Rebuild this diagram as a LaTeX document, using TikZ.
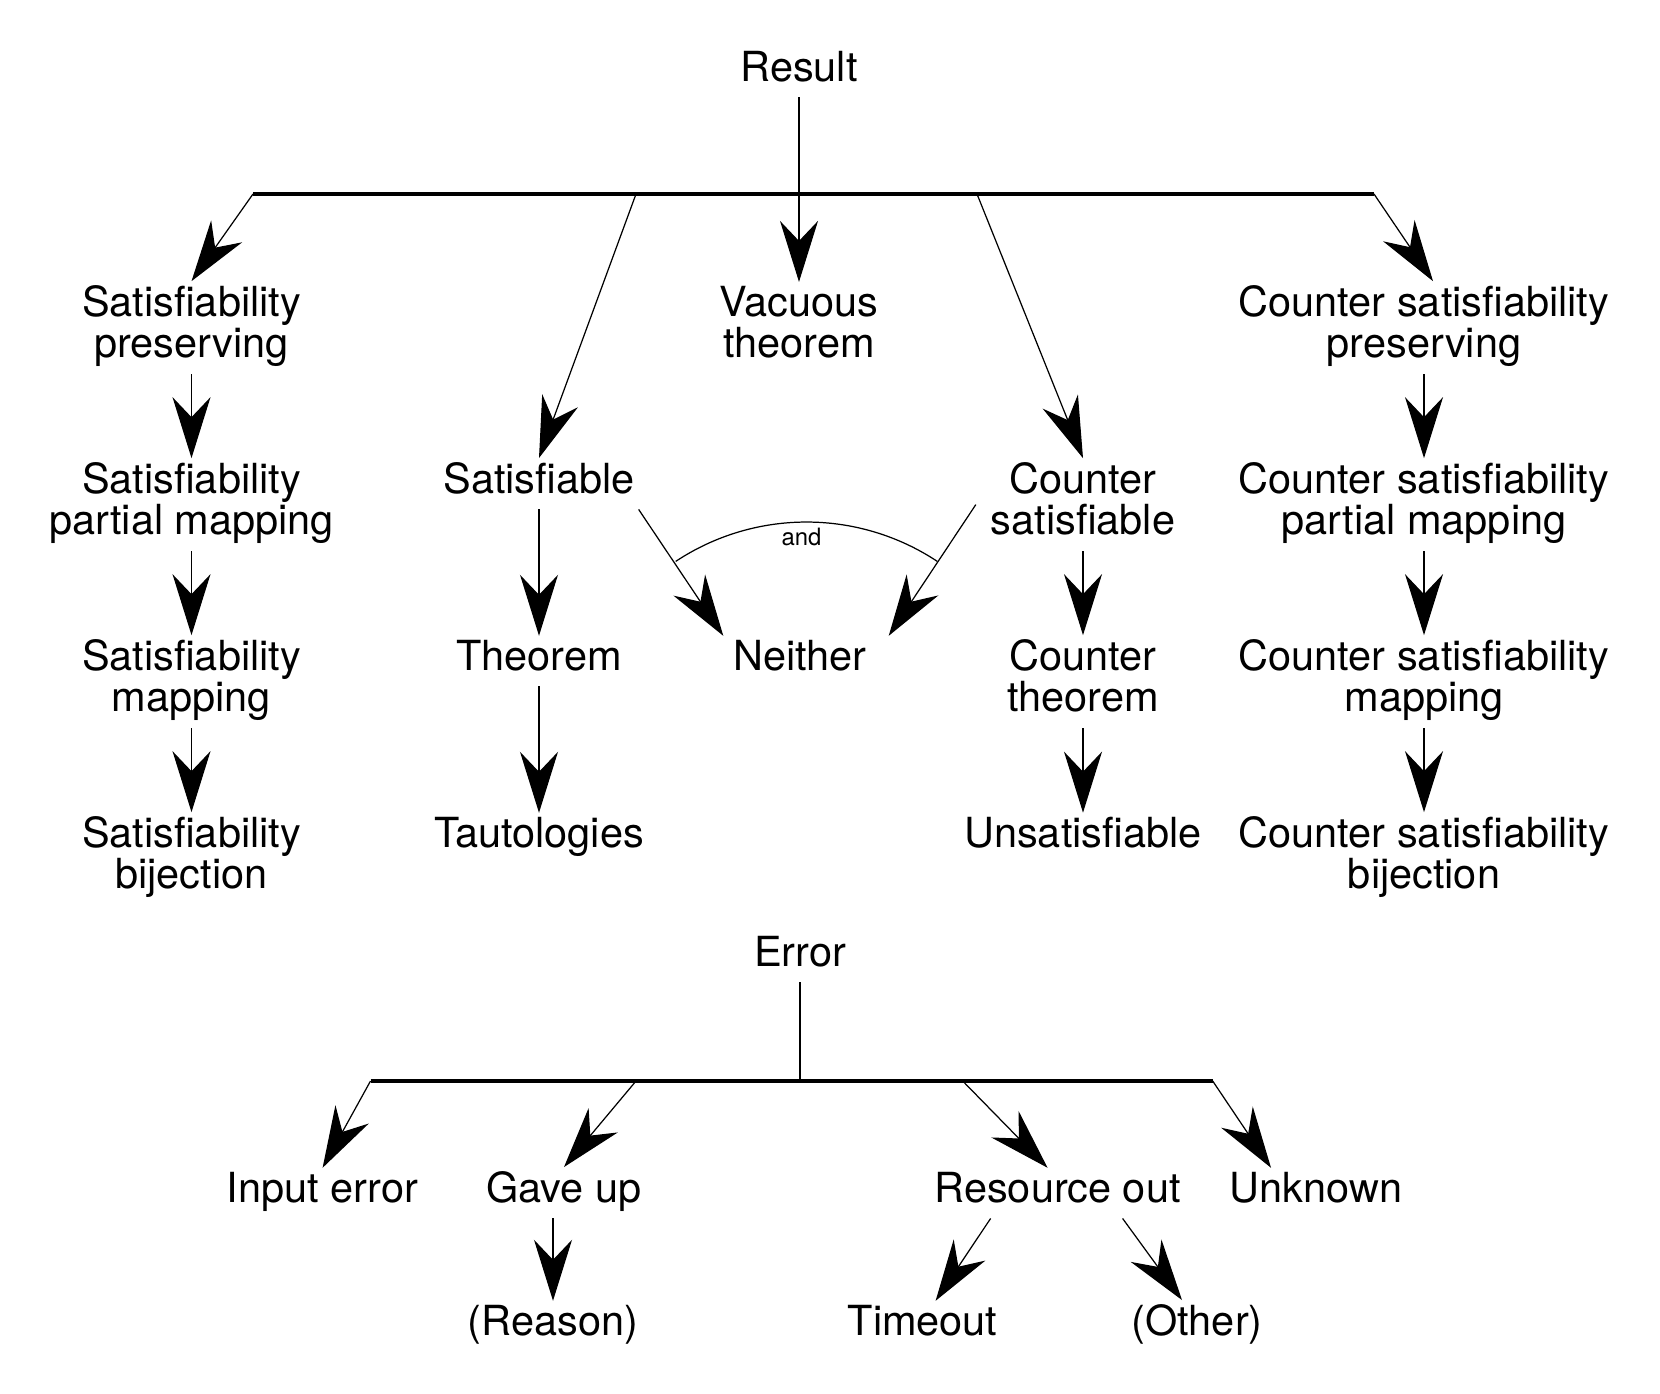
\documentclass[tikz,border=0pt]{standalone}
\usepackage{fontspec}
\setmainfont{TeX Gyre Heros}
\usetikzlibrary{arrows.meta}

\begin{document}
\begin{tikzpicture}[
      LB/.style = {anchor=base, align=center, inner sep=0pt, outer sep=0.04cm,
                   font=\fontsize{11.8}{11.8}\selectfont,
                   execute at begin node=\strut, execute at end node=\strut},
      AR/.style = {line width=0.35pt, -{Stealth[length=0.61cm, width=0.38cm, inset=0.2cm]}},
      BR/.style = {line width=1pt} ]
\useasboundingbox (0,0) rectangle (16.6,-13.93);

% result tree (two-line nodes sit on their last line)
\node (res)  [LB] at (7.99,-0.81) {Result};
\node (vt)   [LB] at (7.99,-3.576) {Vacuous\\theorem};
\node (sp)   [LB] at (1.915,-3.576) {Satisfiability\\preserving};
\node (spm)  [LB] at (1.915,-5.346) {Satisfiability\\partial mapping};
\node (sm)   [LB] at (1.915,-7.116) {Satisfiability\\mapping};
\node (sb)   [LB] at (1.915,-8.886) {Satisfiability\\bijection};
\node (sat)  [LB] at (5.39,-4.93) {Satisfiable};
\node (thm)  [LB] at (5.39,-6.70) {Theorem};
\node (taut) [LB] at (5.39,-8.47) {Tautologies};
\node (nei)  [LB] at (8.00,-6.70) {Neither};
\node (cs)   [LB] at (10.83,-5.346) {Counter\\satisfiable};
\node (ct)   [LB] at (10.83,-7.116) {Counter\\theorem};
\node (uns)  [LB] at (10.83,-8.47) {Unsatisfiable};
\node (csp)  [LB] at (14.24,-3.576) {Counter satisfiability\\preserving};
\node (cspm) [LB] at (14.24,-5.346) {Counter satisfiability\\partial mapping};
\node (csm)  [LB] at (14.24,-7.116) {Counter satisfiability\\mapping};
\node (csb)  [LB] at (14.24,-8.886) {Counter satisfiability\\bijection};

\coordinate (b1) at (2.53,-1.94);
\coordinate (b2) at (6.36,-1.94);
\coordinate (b3) at (9.77,-1.94);
\coordinate (b4) at (13.74,-1.94);

\draw[BR] (b1) -- (b4);
\draw[AR] (res) -- (vt);
\draw[AR] (b1) -- (sp.north);
\draw[AR] (b2) -- (sat.north);
\draw[AR] (b3) -- (cs.north);
\draw[AR] (b4) -- ([xshift=0.09cm]csp.north);

\foreach \a/\b in {sp/spm, spm/sm, sm/sb, sat/thm, thm/taut, cs/ct, ct/uns,
                   csp/cspm, cspm/csm, csm/csb}
   \draw[AR] (\a) -- (\b);

\draw[AR] (sat.south east) -- ([xshift=-0.06cm]nei.north west);
\draw[AR] ([xshift=-0.11cm]cs.west) -- ([xshift=0.18cm]nei.north east);
\draw[line width=0.35pt] (8.065,-7.59) ++(56.5:2.37) arc (56.5:123.5:2.37)
      node (andl) [midway, below, inner sep=0.05cm, xshift=-0.05cm,
                   font=\fontsize{6.8}{8}\selectfont] {and};

% error tree
\node (err)  [LB] at (8.00,-9.66) {Error};
\node (inp)  [LB] at (3.226,-12.02) {Input error};
\node (gu)   [LB] at (5.64,-12.02) {Gave up};
\node (ro)   [LB] at (10.576,-12.02) {Resource out};
\node (unk)  [LB] at (13.16,-12.02) {Unknown};
\node (rsn)  [LB] at (5.53,-13.35) {(Reason)};
\node (tmo)  [LB] at (9.226,-13.35) {Timeout};
\node (oth)  [LB] at (11.97,-13.35) {(Other)};

\coordinate (e0) at (8.00,-10.81);
\coordinate (e1) at (3.705,-10.81);
\coordinate (e2) at (6.36,-10.81);
\coordinate (e3) at (9.627,-10.81);
\coordinate (e4) at (12.127,-10.81);

\draw[line width=0.35pt] (err) -- (e0);
\draw[BR] (e1) -- (e4);
\draw[AR] (e1) -- (inp.north);
\draw[AR] (e2) -- (gu.north);
\draw[AR] (e3) -- ([xshift=-0.1cm]ro.north);
\draw[AR] (e4) -- ([xshift=-0.45cm]unk.north);
\draw[AR] (rsn.north |- gu.south) -- (rsn.north);
\draw[AR] ([xshift=-0.67cm]ro.south) -- ([xshift=0.13cm]tmo.north);
\draw[AR] ([xshift=0.65cm]ro.south) -- ([xshift=-0.15cm]oth.north);
\end{tikzpicture}
\end{document}
